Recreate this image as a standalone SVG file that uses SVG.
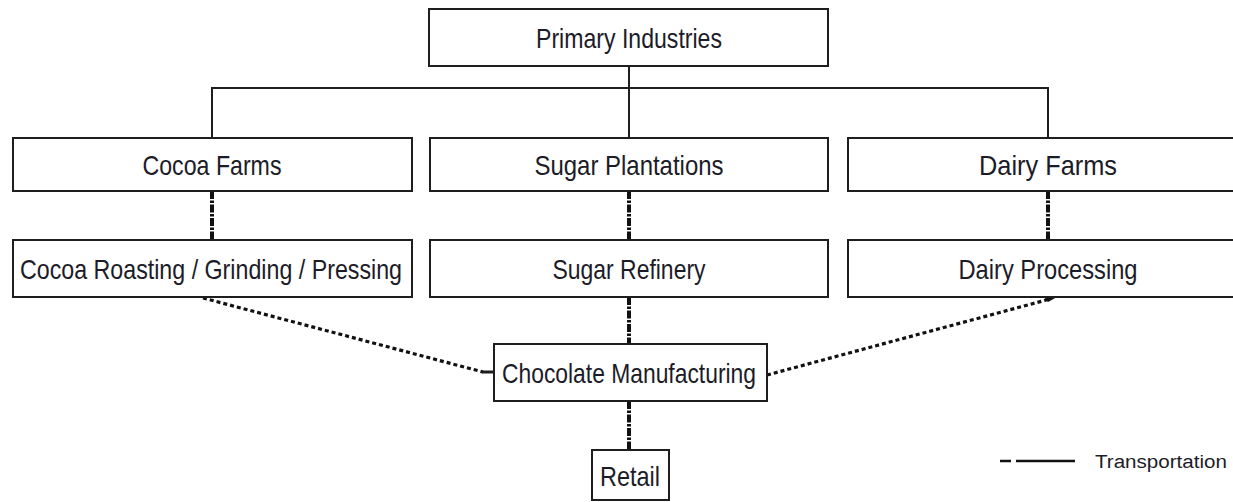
<svg xmlns="http://www.w3.org/2000/svg" width="1233" height="502" viewBox="0 0 1233 502">
  <style>
    .box { fill: #ffffff; stroke: #1e1e1e; stroke-width: 2; }
    .lbl { font-family: "Liberation Sans", Arial, sans-serif; font-size: 28px; fill: #1c1c28; text-anchor: middle; }
    .tree { stroke: #1e1e1e; stroke-width: 2; fill: none; }
    .transport { stroke: #111111; stroke-width: 4; fill: none; stroke-dasharray: 8 1.5 2.5 1.5; }
    .dotted { stroke: #111111; stroke-width: 3.2; fill: none; stroke-dasharray: 4 3; }
    .legend { font-family: "Liberation Sans", Arial, sans-serif; font-size: 18px; fill: #1c1c28; }
  </style>
  <rect width="1233" height="502" fill="#ffffff"/>

  <g id="connectors">
    <line class="tree" x1="629" y1="66" x2="629" y2="138"/>
    <polyline class="tree" points="212,138 212,88 1048,88 1048,138"/>
    <line class="transport" x1="212" y1="191" x2="212" y2="240"/>
    <line class="transport" x1="629" y1="191" x2="629" y2="240"/>
    <line class="transport" x1="1048" y1="191" x2="1048" y2="240"/>
    <line class="transport" x1="629" y1="297" x2="629" y2="344"/>
    <line class="transport" x1="629" y1="401" x2="629" y2="450"/>
    <line class="dotted" x1="203" y1="298" x2="483" y2="372"/>
    <line class="tree" x1="482" y1="372" x2="494" y2="372" style="stroke-width:3"/>
    <line class="dotted" x1="767" y1="375" x2="1050" y2="299"/>
    <path d="M1044,297 L1057,297 L1048,302 Z" fill="#111111"/>
  </g>

  <g id="primary-industries">
    <rect class="box" x="429" y="9" width="399" height="57"/>
    <text class="lbl" x="629" y="48" textLength="186" lengthAdjust="spacingAndGlyphs">Primary Industries</text>
  </g>
  <g id="cocoa-farms">
    <rect class="box" x="13" y="138" width="399" height="53"/>
    <text class="lbl" x="212" y="175" textLength="139" lengthAdjust="spacingAndGlyphs">Cocoa Farms</text>
  </g>
  <g id="sugar-plantations">
    <rect class="box" x="430" y="138" width="398" height="53"/>
    <text class="lbl" x="629" y="175" textLength="189" lengthAdjust="spacingAndGlyphs">Sugar Plantations</text>
  </g>
  <g id="dairy-farms">
    <rect class="box" x="848" y="138" width="400" height="53"/>
    <text class="lbl" x="1048" y="175" textLength="138" lengthAdjust="spacingAndGlyphs">Dairy Farms</text>
  </g>
  <g id="cocoa-processing">
    <rect class="box" x="13" y="240" width="399" height="57"/>
    <text class="lbl" x="211" y="279" textLength="382" lengthAdjust="spacingAndGlyphs">Cocoa Roasting / Grinding / Pressing</text>
  </g>
  <g id="sugar-refinery">
    <rect class="box" x="430" y="240" width="398" height="57"/>
    <text class="lbl" x="629" y="279" textLength="153" lengthAdjust="spacingAndGlyphs">Sugar Refinery</text>
  </g>
  <g id="dairy-processing">
    <rect class="box" x="848" y="240" width="400" height="57"/>
    <text class="lbl" x="1048" y="279" textLength="179" lengthAdjust="spacingAndGlyphs">Dairy Processing</text>
  </g>
  <g id="chocolate-manufacturing">
    <rect class="box" x="494" y="344" width="273" height="57"/>
    <text class="lbl" x="629" y="383" textLength="254" lengthAdjust="spacingAndGlyphs">Chocolate Manufacturing</text>
  </g>
  <g id="retail">
    <rect class="box" x="592" y="450" width="77" height="50"/>
    <text class="lbl" x="630" y="486" textLength="60" lengthAdjust="spacingAndGlyphs">Retail</text>
  </g>

  <g id="legend">
    <line x1="1000" y1="461" x2="1011" y2="461" stroke="#111111" stroke-width="2.5"/>
    <line x1="1016" y1="461" x2="1075" y2="461" stroke="#111111" stroke-width="2.5"/>
    <text class="legend" x="1095" y="468" textLength="132" lengthAdjust="spacingAndGlyphs">Transportation</text>
  </g>
</svg>
